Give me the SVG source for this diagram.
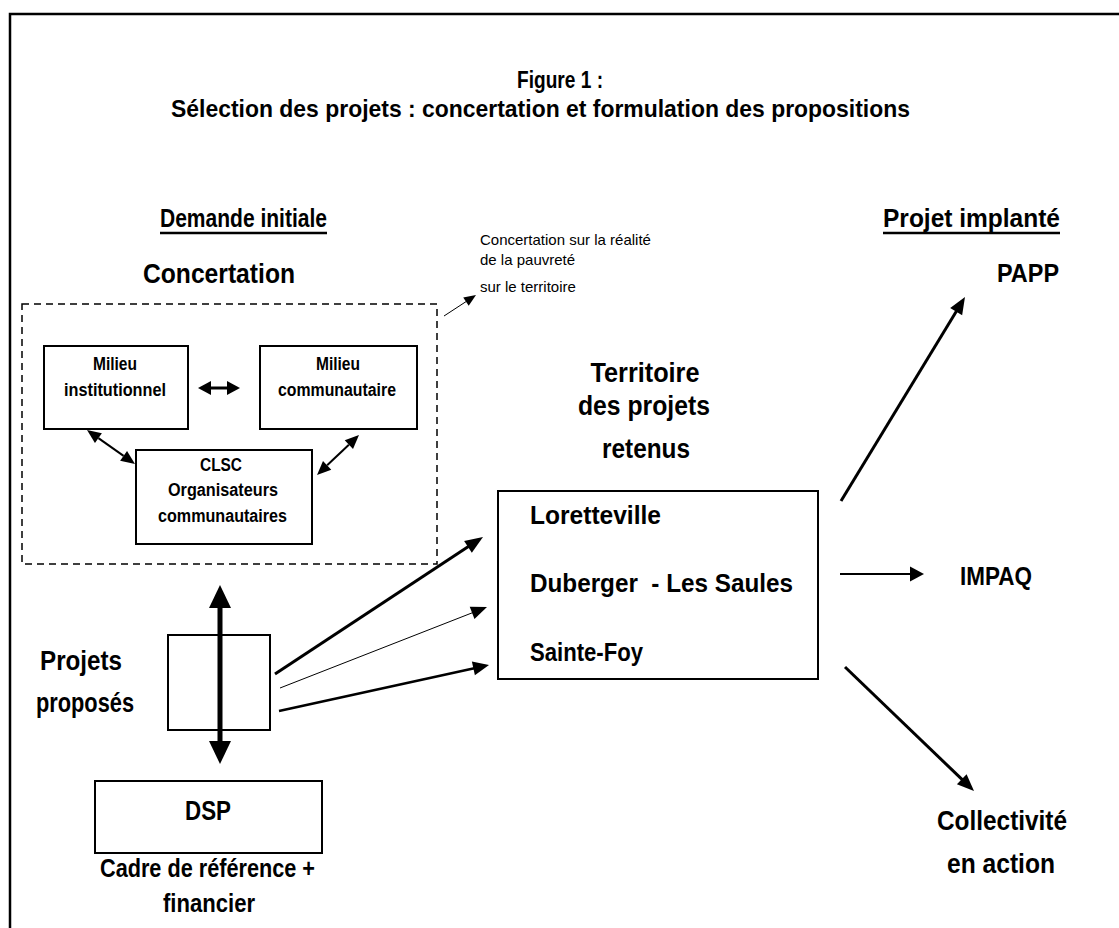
<svg xmlns="http://www.w3.org/2000/svg" width="1119" height="928" viewBox="0 0 1119 928">
<style>
text{font-family:'Liberation Sans',Arial,sans-serif;fill:#000}
.b{font-weight:bold}
.m{text-anchor:middle}
.sm{font-size:15px}
.box{fill:#fff;stroke:#000;stroke-width:2}
.ln{stroke:#000;fill:none}
.hd{fill:#000;stroke:none}
</style>
<rect width="1119" height="928" fill="#fff"/>
<path d="M10,928 V14 H1119" fill="none" stroke="#000" stroke-width="2.5"/>

<g id="title">
<text class="b m" x="560" y="88" font-size="24" textLength="86" lengthAdjust="spacingAndGlyphs">Figure 1 :</text>
<text class="b m" x="540.5" y="117" font-size="24" textLength="739" lengthAdjust="spacingAndGlyphs">Sélection des projets : concertation et formulation des propositions</text>
</g>

<g id="demande-initiale">
<text class="b" x="160" y="227" font-size="25" textLength="167" lengthAdjust="spacingAndGlyphs">Demande initiale</text>
<line x1="160" y1="233" x2="327" y2="233" stroke="#000" stroke-width="2.5"/>
</g>
<g id="projet-implante">
<text class="b" x="883" y="227" font-size="25" textLength="177" lengthAdjust="spacingAndGlyphs">Projet implanté</text>
<line x1="883" y1="233" x2="1060" y2="233" stroke="#000" stroke-width="2.5"/>
</g>

<g id="concertation">
<text class="b" x="143" y="283" font-size="27" textLength="152" lengthAdjust="spacingAndGlyphs">Concertation</text>
<rect x="22" y="304" width="415" height="260" fill="none" stroke="#000" stroke-width="1.5" stroke-dasharray="7 5"/>
</g>

<g id="note">
<text class="sm" x="480" y="245">Concertation sur la réalité</text>
<text class="sm" x="480" y="265">de la pauvreté</text>
<text class="sm" x="480" y="292">sur le territoire</text>
</g>

<g id="milieu-institutionnel">
<rect class="box" x="44" y="346" width="144" height="83"/>
<text class="b m" x="115" y="370" font-size="17.5" textLength="44" lengthAdjust="spacingAndGlyphs">Milieu</text>
<text class="b m" x="115" y="396" font-size="17.5" textLength="102" lengthAdjust="spacingAndGlyphs">institutionnel</text>
</g>
<g id="milieu-communautaire">
<rect class="box" x="260" y="346" width="157" height="83"/>
<text class="b m" x="338" y="370" font-size="17.5" textLength="44" lengthAdjust="spacingAndGlyphs">Milieu</text>
<text class="b m" x="337" y="396" font-size="17.5" textLength="118" lengthAdjust="spacingAndGlyphs">communautaire</text>
</g>
<g id="clsc">
<rect class="box" x="136" y="450" width="176" height="94"/>
<text class="b m" x="221" y="471" font-size="17.5" textLength="42" lengthAdjust="spacingAndGlyphs">CLSC</text>
<text class="b m" x="223" y="496" font-size="17.5" textLength="110" lengthAdjust="spacingAndGlyphs">Organisateurs</text>
<text class="b m" x="222.5" y="522" font-size="17.5" textLength="129" lengthAdjust="spacingAndGlyphs">communautaires</text>
</g>

<g id="territoire">
<text class="b m" x="645" y="382" font-size="27" textLength="109" lengthAdjust="spacingAndGlyphs">Territoire</text>
<text class="b m" x="644" y="415" font-size="27" textLength="132" lengthAdjust="spacingAndGlyphs">des projets</text>
<text class="b m" x="646" y="458" font-size="27" textLength="88" lengthAdjust="spacingAndGlyphs">retenus</text>
<rect class="box" x="498" y="491" width="320" height="188"/>
<text class="b" x="530" y="524" font-size="25.5" textLength="131" lengthAdjust="spacingAndGlyphs">Loretteville</text>
<text class="b" x="530" y="592" font-size="25.5" textLength="263" lengthAdjust="spacingAndGlyphs" xml:space="preserve">Duberger  - Les Saules</text>
<text class="b" x="530" y="661" font-size="25.5" textLength="113" lengthAdjust="spacingAndGlyphs">Sainte-Foy</text>
</g>

<g id="projets-proposes">
<text class="b m" x="81" y="670" font-size="27" textLength="82" lengthAdjust="spacingAndGlyphs">Projets</text>
<text class="b m" x="85" y="712" font-size="27" textLength="98" lengthAdjust="spacingAndGlyphs">proposés</text>
<rect class="box" x="168" y="635" width="102" height="95"/>
</g>

<g id="dsp">
<rect class="box" x="95" y="781" width="227" height="72"/>
<text class="b m" x="208" y="820" font-size="27" textLength="46" lengthAdjust="spacingAndGlyphs">DSP</text>
<text class="b m" x="207.5" y="877" font-size="25" textLength="215" lengthAdjust="spacingAndGlyphs">Cadre de référence +</text>
<text class="b m" x="209" y="912" font-size="25" textLength="92" lengthAdjust="spacingAndGlyphs">financier</text>
</g>

<g id="papp"><text class="b" x="997" y="282" font-size="25.5" textLength="62" lengthAdjust="spacingAndGlyphs">PAPP</text></g>
<g id="impaq"><text class="b" x="960" y="585" font-size="25.5" textLength="72" lengthAdjust="spacingAndGlyphs">IMPAQ</text></g>
<g id="collectivite">
<text class="b m" x="1002" y="830" font-size="27" textLength="130" lengthAdjust="spacingAndGlyphs">Collectivité</text>
<text class="b m" x="1001" y="873" font-size="27" textLength="108" lengthAdjust="spacingAndGlyphs">en action</text>
</g>

<g id="connectors">
<line class="ln" x1="444" y1="316" x2="466.5" y2="301.3" stroke-width="1"/>
<polygon class="hd" points="476,295 468.71,305.76 463.23,297.40"/>
<line class="ln" x1="98.42" y1="438.09" x2="123.58" y2="455.91" stroke-width="2"/>
<polygon class="hd" points="87,430 94.95,442.99 101.89,433.19"/>
<polygon class="hd" points="135,464 120.11,460.81 127.05,451.01"/>
<line class="ln" x1="348.86" y1="444.66" x2="327.14" y2="465.34" stroke-width="2"/>
<polygon class="hd" points="359,435 344.72,440.32 353,449"/>
<polygon class="hd" points="317,475 323,461 331.28,469.68"/>
<line class="ln" x1="210" y1="388" x2="228" y2="388" stroke-width="3"/>
<polygon class="hd" points="198,388 211,381 211,395"/>
<polygon class="hd" points="240,388 227,381 227,395"/>
<line class="ln" x1="220" y1="606" x2="220" y2="743" stroke-width="5"/>
<polygon class="hd" points="220,585 231,608 209,608"/>
<polygon class="hd" points="220,764 231,741 209,741"/>
<line class="ln" x1="275" y1="674" x2="468.8" y2="546.35" stroke-width="3"/>
<polygon class="hd" points="483,537 471.82,552.75 464.12,541.05"/>
<line class="ln" x1="280" y1="688" x2="473" y2="612.5" stroke-width="1" stroke="#333"/>
<polygon class="hd" points="487,607 474.47,618.88 469.73,606.78"/>
<line class="ln" x1="279" y1="711" x2="474.3" y2="668.2" stroke-width="2.5"/>
<polygon class="hd" points="489,665 474.87,675.26 471.87,661.58"/>
<line class="ln" x1="841" y1="501" x2="956.7" y2="310.7" stroke-width="3"/>
<polygon class="hd" points="965,297 962.15,315.17 950.19,307.89"/>
<line class="ln" x1="840" y1="574" x2="911" y2="574" stroke-width="2"/>
<polygon class="hd" points="924,574 910,566.5 910,581.5"/>
<line class="ln" x1="845" y1="667" x2="962.5" y2="779.9" stroke-width="3"/>
<polygon class="hd" points="974,791 956.89,784.27 966.59,774.17"/>
</g>
</svg>
